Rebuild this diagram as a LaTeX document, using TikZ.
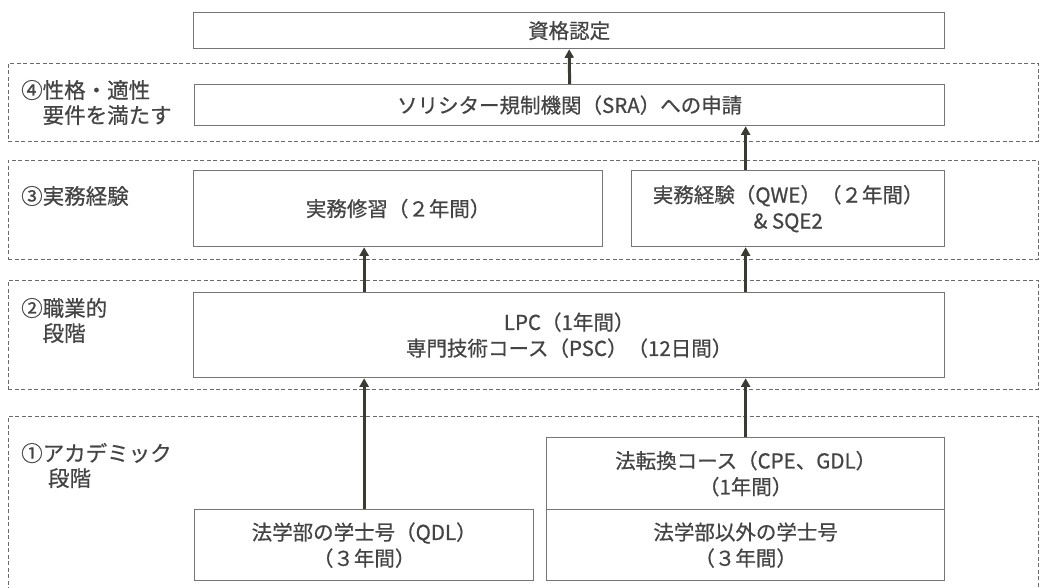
\documentclass[tikz,border=0pt]{standalone}
\usepackage{fontspec}
\setmainfont[FakeBold=0.6]{Noto Sans CJK JP}
\usetikzlibrary{arrows.meta}
\definecolor{txt}{HTML}{444444}
\definecolor{boxline}{HTML}{767676}
\definecolor{frameline}{HTML}{6A6A6A}
\definecolor{arrowc}{HTML}{3B3B33}
\begin{document}
\begin{tikzpicture}[x=1pt,y=-1pt,
  box/.style={draw=boxline, line width=1.3pt, fill=white, anchor=north west, inner sep=0pt, align=center, text=txt, font=\fontsize{20.5}{26}\selectfont},
  frame/.style={draw=frameline, dash pattern=on 4pt off 2.5pt, line width=0.9pt, anchor=north west, inner sep=0pt},
  lbl/.style={anchor=west, align=left, text=txt, font=\fontsize{21.5}{25}\selectfont, inner sep=0pt},
  arr/.style={draw=arrowc, line width=3pt, -{Triangle[width=9pt,length=8.5pt]}}]
\useasboundingbox (0,0) rectangle (1044,588);
\clip (0,0) rectangle (1044,588);
% stage frames
\node[frame, minimum width=1030pt, minimum height=78pt]  (f4) at (8,63) {};
\node[frame, minimum width=1030pt, minimum height=99pt]  (f3) at (8,160) {};
\node[frame, minimum width=1030pt, minimum height=109pt] (f2) at (8,280) {};
\node[frame, minimum width=1030pt, minimum height=200pt] (f1) at (8,416) {};
% stage labels
\node[lbl] (l4) at (21,102.5) {④性格・適性\\\hspace*{1em}要件を満たす};
\node[lbl] (l3) at (21,196) {③実務経験};
\node[lbl] (l2) at (21,320.5) {②職業的\\\hspace*{1em}段階};
\node[lbl] (l1) at (21,465.5) {①アカデミック\\\hspace*{1.25em}段階};
% boxes
\node[box, minimum width=751pt, minimum height=36pt] (top) at (193,12) {資格認定};
\node[box, minimum width=750pt, minimum height=41pt] (sra) at (194,84) {ソリシター規制機関（SRA）への申請};
\node[box, minimum width=409pt, minimum height=76pt] (prac) at (193,170) {実務修習（２年間）};
\node[box, minimum width=313pt, minimum height=76pt] (qwe) at (631,170) {実務経験（QWE）（２年間）\\\& SQE2};
\node[box, minimum width=751pt, minimum height=85pt] (lpc) at (193,292) {LPC（1年間）\\専門技術コース（PSC）（12日間）};
\node[box, minimum width=339pt, minimum height=71pt] (qdl) at (194,509) {法学部の学士号（QDL）\\（３年間）};
\node[box, minimum width=398pt, minimum height=72pt] (cpe) at (546,437) {法転換コース（CPE、GDL）\\（1年間）};
\node[box, minimum width=398pt, minimum height=71pt] (nonlaw) at (546,509) {法学部以外の学士号\\（３年間）};
% arrows
\draw[arr] (qdl.north) -- (qdl.north |- lpc.south);
\draw[arr] (cpe.north) -- (cpe.north |- lpc.south);
\draw[arr] (lpc.north -| qdl.north) -- (prac.south -| qdl.north);
\draw[arr] (lpc.north -| cpe.north) -- (qwe.south -| cpe.north);
\draw[arr] (qwe.north -| cpe.north) -- (sra.south -| cpe.north);
\draw[arr] (sra.north) -- (top.south);
\end{tikzpicture}
\end{document}
